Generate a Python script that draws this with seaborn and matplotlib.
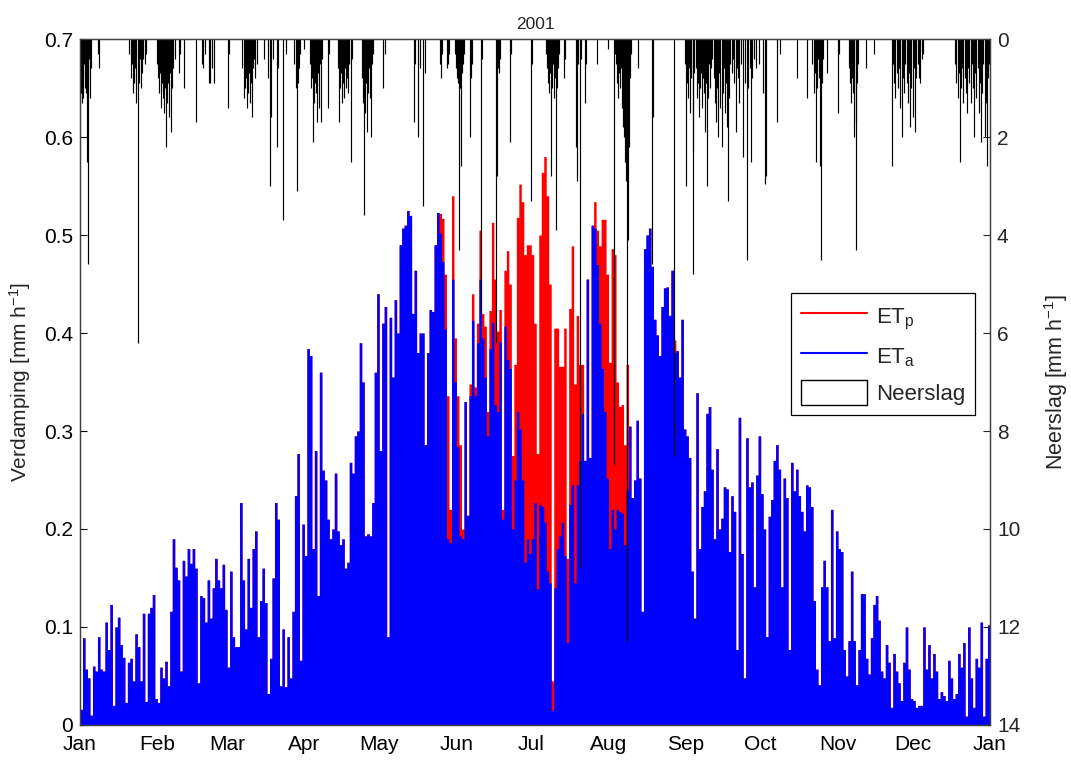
import numpy as np
import pandas as pd
import matplotlib
matplotlib.use("Agg")
import matplotlib.pyplot as plt
from matplotlib.lines import Line2D
from matplotlib.patches import Patch
import seaborn as sns

# ---------------- data (daily peak values) ----------------
year_title = "2001"
month_labels = ["Jan", "Feb", "Mar", "Apr", "May", "Jun", "Jul", "Aug", "Sep",
                "Oct", "Nov", "Dec", "Jan"]
month_starts = [0, 31, 59, 90, 120, 151, 181, 212, 243, 273, 304, 334, 365]

# actual evapotranspiration, daily maximum hourly value [mm/h], day 0 = 1 Jan
et_a = [
    0.016, 0.089, 0.057, 0.048, 0.010, 0.060, 0.055, 0.090, 0.057, 0.055,
    0.105, 0.077, 0.123, 0.020, 0.100, 0.110, 0.082, 0.069, 0.023, 0.064,
    0.068, 0.045, 0.093, 0.080, 0.045, 0.114, 0.024, 0.114, 0.120, 0.133,
    0.027, 0.023, 0.059, 0.048, 0.065, 0.040, 0.116, 0.190, 0.161, 0.148,
    0.055, 0.168, 0.152, 0.180, 0.165, 0.180, 0.160, 0.043, 0.132, 0.130,
    0.105, 0.148, 0.109, 0.140, 0.170, 0.148, 0.140, 0.164, 0.118, 0.059,
    0.157, 0.090, 0.080, 0.080, 0.227, 0.148, 0.098, 0.170, 0.120, 0.180,
    0.198, 0.090, 0.127, 0.160, 0.125, 0.032, 0.068, 0.150, 0.227, 0.210,
    0.040, 0.098, 0.039, 0.090, 0.048, 0.116, 0.234, 0.277, 0.066, 0.205,
    0.173, 0.384, 0.377, 0.180, 0.280, 0.132, 0.360, 0.260, 0.250, 0.210,
    0.190, 0.200, 0.257, 0.198, 0.184, 0.190, 0.160, 0.166, 0.268, 0.257,
    0.295, 0.300, 0.390, 0.350, 0.193, 0.195, 0.193, 0.227, 0.360, 0.440,
    0.280, 0.410, 0.427, 0.090, 0.416, 0.355, 0.434, 0.400, 0.490, 0.507,
    0.510, 0.525, 0.520, 0.420, 0.464, 0.380, 0.400, 0.400, 0.286, 0.380,
    0.424, 0.422, 0.490, 0.523, 0.502, 0.473, 0.404, 0.190, 0.186, 0.455,
    0.350, 0.284, 0.193, 0.190, 0.330, 0.214, 0.336, 0.413, 0.336, 0.390,
    0.455, 0.395, 0.355, 0.295, 0.384, 0.411, 0.327, 0.320, 0.391, 0.210,
    0.407, 0.373, 0.364, 0.200, 0.250, 0.320, 0.302, 0.250, 0.166, 0.190,
    0.175, 0.190, 0.227, 0.139, 0.225, 0.223, 0.207, 0.157, 0.145, 0.015,
    0.140, 0.180, 0.193, 0.207, 0.173, 0.084, 0.225, 0.245, 0.145, 0.245,
    0.270, 0.318, 0.270, 0.455, 0.273, 0.510, 0.507, 0.470, 0.410, 0.364,
    0.320, 0.252, 0.180, 0.220, 0.200, 0.220, 0.218, 0.216, 0.184, 0.240,
    0.305, 0.232, 0.250, 0.311, 0.252, 0.116, 0.486, 0.500, 0.507, 0.468,
    0.414, 0.398, 0.377, 0.427, 0.446, 0.447, 0.418, 0.464, 0.380, 0.382,
    0.355, 0.414, 0.302, 0.295, 0.273, 0.157, 0.109, 0.339, 0.180, 0.223,
    0.239, 0.318, 0.325, 0.261, 0.190, 0.282, 0.200, 0.211, 0.243, 0.241,
    0.177, 0.234, 0.218, 0.077, 0.314, 0.175, 0.048, 0.293, 0.243, 0.248,
    0.141, 0.255, 0.295, 0.236, 0.200, 0.090, 0.213, 0.230, 0.270, 0.286,
    0.261, 0.141, 0.252, 0.232, 0.077, 0.268, 0.239, 0.261, 0.234, 0.218,
    0.198, 0.245, 0.243, 0.223, 0.127, 0.057, 0.041, 0.141, 0.168, 0.141,
    0.086, 0.220, 0.089, 0.198, 0.180, 0.177, 0.077, 0.050, 0.086, 0.157,
    0.086, 0.041, 0.077, 0.134, 0.134, 0.068, 0.052, 0.089, 0.123, 0.132,
    0.107, 0.055, 0.048, 0.082, 0.064, 0.018, 0.073, 0.055, 0.043, 0.025,
    0.064, 0.100, 0.057, 0.027, 0.025, 0.018, 0.020, 0.020, 0.100, 0.057,
    0.082, 0.048, 0.073, 0.055, 0.027, 0.034, 0.030, 0.025, 0.066, 0.048,
    0.027, 0.032, 0.073, 0.059, 0.084, 0.009, 0.100, 0.048, 0.018, 0.068,
    0.059, 0.105, 0.009, 0.068, 0.102,
]

# potential evapotranspiration where it exceeds the actual value (days 143-219, 238)
et_p_first_day = 143
et_p_summer = [
    0.523, 0.522, 0.517, 0.460, 0.336, 0.220, 0.540, 0.395, 0.336, 0.286,
    0.200, 0.330, 0.214, 0.348, 0.440, 0.345, 0.410, 0.505, 0.420, 0.407,
    0.320, 0.423, 0.513, 0.455, 0.402, 0.424, 0.220, 0.464, 0.484, 0.450,
    0.275, 0.368, 0.518, 0.552, 0.534, 0.480, 0.490, 0.490, 0.480, 0.410,
    0.277, 0.500, 0.564, 0.580, 0.540, 0.450, 0.045, 0.405, 0.405, 0.366,
    0.366, 0.405, 0.170, 0.425, 0.489, 0.348, 0.418, 0.368, 0.368, 0.270,
    0.455, 0.273, 0.510, 0.534, 0.505, 0.489, 0.516, 0.516, 0.460, 0.370,
    0.486, 0.480, 0.350, 0.325, 0.327, 0.286, 0.368,
]
et_p_extra_day = 238
et_p_extra_value = 0.393

# precipitation events: day of year (fractional) and hourly intensity [mm/h]
precip_day = [
    0.2, 0.5, 0.8, 1.1, 1.4, 1.7, 2.0, 2.3, 2.6, 2.8, 3.1, 3.4, 3.7, 4.0, 4.4, 7.3, 7.6,
    19.8, 20.3, 20.7, 21.2, 21.6, 22.1, 22.5, 23.1, 23.5, 23.9, 24.3, 24.7, 25.3, 26.0, 26.3,
    30.8, 31.2, 31.6, 32.0, 32.4, 32.8, 33.2, 33.6, 34.0, 34.5, 34.9, 35.3, 35.7, 36.1, 36.5,
    37.0, 37.4, 38.0, 39.6, 40.2, 41.8,
    46.5, 48.8, 49.5, 50.1, 51.6, 52.3, 53.0, 53.8, 59.5, 59.9,
    65.1, 65.6, 66.1, 66.5, 66.9, 67.3, 67.7, 68.1, 68.5, 68.9, 69.3, 69.7, 70.3, 71.0,
    73.8, 75.6, 76.4, 76.8, 77.5, 79.1, 79.5, 81.3, 82.5,
    86.0, 86.5, 86.9, 87.3, 87.8, 88.4, 89.9,
    92.3, 92.7, 93.1, 93.4, 93.8, 94.2, 94.6, 94.9, 95.3, 95.8, 96.3, 96.7, 97.2,
    99.3, 99.7,
    103.3, 103.7, 104.1, 104.5, 104.9, 105.3, 105.7, 106.1, 106.5, 107.0, 107.5, 108.0, 108.6, 109.0,
    113.2, 113.6, 114.0, 114.4, 114.8, 115.2, 115.6, 116.0, 116.4, 116.8, 117.2, 117.6,
    121.7, 122.3,
    133.9, 134.3, 135.7, 136.2, 137.7, 138.2,
    144.3, 144.7, 145.2, 147.0, 147.4, 147.8,
    150.4, 150.9, 151.3, 151.7, 152.1, 152.4, 152.7, 153.1, 153.5, 153.9,
    156.4, 156.8, 157.3, 160.8, 161.2,
    166.8, 167.2, 167.5, 168.2, 168.6, 172.5, 172.8, 180.8, 181.2,
    186.9, 187.3, 187.7, 188.1, 188.5, 188.8, 189.2, 189.6, 190.0, 190.4, 190.8, 191.2, 191.6, 192.0,
    194.0, 194.5, 199.0, 199.3, 199.7, 200.5, 200.9, 202.5, 202.9, 207.5, 211.6,
    214.0, 214.4, 215.0, 215.4, 215.7, 216.1, 216.5, 216.9, 217.3, 217.7, 218.1, 218.4, 218.8,
    219.1, 219.3, 219.6, 219.9, 220.3, 220.7, 221.1,
    223.9, 229.3, 229.7, 238.2,
    242.5, 243.0, 243.4, 243.8, 244.3, 244.7, 245.1, 245.7, 246.0, 246.4,
    247.0, 247.4, 247.8, 248.2, 248.6, 249.0, 249.4, 249.8, 250.2, 250.6, 251.0, 251.3, 251.7,
    252.1, 252.5, 252.9, 253.5, 254.3, 254.8, 255.2, 255.6, 256.0, 256.4, 256.8, 257.3, 257.7,
    258.1, 258.6, 259.0, 259.4, 260.0, 260.4, 260.8, 261.5, 262.0, 262.5, 263.0, 263.5, 264.0,
    264.5, 265.0, 266.1, 266.6, 267.5, 267.9, 268.6, 269.2, 269.6, 270.5, 271.3, 272.5, 273.8,
    274.7, 275.3,
    279.4, 280.8, 287.7, 291.7, 293.6, 294.2, 294.8, 295.2, 295.6, 296.0, 296.4, 296.8, 297.2,
    297.6, 298.0, 299.6, 304.1, 304.5,
    308.6, 309.0, 309.4, 309.8, 310.2, 310.6, 311.1, 311.4, 311.8, 312.2, 315.2, 318.6,
    325.5, 326.0, 326.5, 327.0, 327.5, 328.0, 328.5, 329.0, 329.5, 330.0, 330.5, 331.0, 331.5,
    332.0, 332.5, 333.0, 333.5, 334.0, 334.5, 335.0, 335.5, 336.0, 336.5, 337.0, 337.6, 338.2,
    351.0, 351.5, 352.0, 352.5, 353.0, 353.4, 353.8, 354.3, 354.8, 355.3, 355.8, 356.2, 356.7,
    357.2, 357.6, 358.0, 358.5, 359.0, 359.5, 360.0, 360.5, 361.0, 361.4, 361.8, 362.3, 362.8,
    363.2, 363.6, 364.0, 364.4,
]
precip_mm = [
    1.1, 0.6, 1.3, 0.8, 1.2, 0.5, 1.0, 0.7, 1.1, 2.5, 4.6, 0.9, 0.4, 1.2, 0.6, 0.3, 0.6,
    0.3, 0.8, 0.5, 1.1, 0.9, 0.6, 1.3, 6.2, 0.9, 0.4, 1.0, 0.7, 0.4, 0.5, 0.3,
    0.5, 0.8, 1.1, 0.7, 1.4, 0.9, 1.2, 1.5, 1.0, 2.2, 1.3, 0.9, 1.6, 0.7, 1.9,
    1.0, 0.6, 0.4, 0.7, 0.3, 1.0,
    1.7, 0.5, 0.6, 0.3, 0.9, 0.9, 0.6, 0.9, 1.4, 0.3,
    0.6, 1.2, 1.0, 0.8, 1.4, 1.1, 0.7, 1.3, 0.9, 1.6, 0.6, 0.4, 0.8, 0.5,
    0.4, 0.8, 3.0, 1.6, 0.4, 2.2, 0.6, 3.7, 0.3,
    0.5, 1.0, 3.1, 0.9, 0.6, 0.3, 0.2,
    0.5, 1.0, 0.8, 2.1, 1.3, 0.9, 1.1, 1.7, 0.7, 1.4, 0.5, 1.7, 0.4,
    1.4, 0.3,
    0.6, 1.7, 1.0, 0.7, 1.3, 0.9, 1.2, 0.6, 1.0, 0.8, 1.1, 0.5, 2.5, 0.4,
    0.8, 1.3, 3.6, 1.5, 0.9, 1.9, 1.1, 0.6, 1.2, 2.0, 0.5, 0.3,
    1.0, 0.3,
    1.7, 0.5, 2.0, 0.6, 3.4, 0.7,
    0.5, 0.8, 0.3, 0.6, 0.5, 0.3,
    0.3, 0.6, 0.8, 0.9, 4.3, 1.0, 2.6, 0.7, 0.5, 0.3,
    2.0, 0.8, 0.5, 5.6, 0.4,
    6.2, 2.8, 0.6, 0.7, 0.4, 2.1, 0.3, 3.3, 0.5,
    0.3, 0.6, 0.9, 1.1, 0.7, 2.8, 1.0, 0.5, 1.2, 0.8, 3.9, 1.0, 0.6, 0.3,
    0.8, 0.4, 2.2, 2.9, 0.5, 10.8, 0.4, 1.3, 0.5, 0.5, 0.2,
    8.7, 0.3, 0.5, 0.9, 1.2, 0.7, 1.0, 0.6, 1.4, 1.8, 2.0, 2.5, 2.9,
    1.5, 12.3, 1.2, 4.1, 2.2, 0.8, 0.3,
    0.6, 4.6, 1.6, 8.5,
    0.5, 3.0, 0.9, 1.2, 0.6, 1.5, 0.8, 4.8, 2.3, 0.7,
    0.6, 1.2, 0.9, 1.6, 1.0, 0.7, 1.4, 0.8, 1.1, 1.9, 0.9, 3.0, 1.2,
    0.5, 1.0, 0.6, 0.4, 0.8, 1.3, 1.7, 1.0, 2.0, 0.7, 1.4, 2.2, 1.1,
    0.6, 1.5, 0.9, 1.8, 3.3, 1.2, 0.5, 0.7, 0.4, 0.9, 1.9, 0.6, 0.8,
    1.3, 0.5, 2.4, 0.9, 4.5, 1.0, 0.6, 2.5, 0.8, 0.4, 0.6, 0.5, 1.1,
    2.95, 2.8,
    1.7, 0.3, 0.8, 1.2, 0.5, 1.1, 0.7, 2.5, 1.0, 0.4, 0.8, 2.6, 4.5,
    0.9, 0.4, 0.7, 1.5, 0.3,
    0.6, 0.9, 1.3, 0.8, 1.1, 2.0, 4.3, 1.7, 0.9, 0.5, 0.6, 0.3,
    2.6, 0.5, 0.9, 1.2, 0.7, 1.0, 0.6, 1.4, 2.0, 0.8, 1.1, 0.5, 0.9,
    1.3, 0.7, 1.8, 1.0, 1.6, 0.6, 1.9, 0.8, 0.5, 0.8, 0.9, 0.4, 0.3,
    0.5, 0.9, 1.2, 0.7, 2.5, 1.0, 0.6, 1.3, 0.8, 1.1, 1.5, 0.6, 0.9,
    1.3, 0.5, 1.0, 2.0, 0.7, 1.2, 0.6, 1.5, 0.9, 2.1, 1.1, 0.5, 2.0,
    1.3, 2.6, 0.8, 0.5,
]

# ---------------- build tables ----------------
days = np.arange(len(et_a))
et_p = list(et_a)
for i, v in enumerate(et_p_summer):
    et_p[et_p_first_day + i] = v
et_p[et_p_extra_day] = et_p_extra_value
df = pd.DataFrame({"day": days + 0.5, "ETa": et_a, "ETp": et_p})

# ---------------- plotting ----------------
sns.set_style("white")
plt.rcParams["font.family"] = ["Liberation Sans", "DejaVu Sans"]
plt.rcParams["mathtext.fontset"] = "custom"
plt.rcParams["mathtext.rm"] = "Liberation Sans"
plt.rcParams["mathtext.it"] = "Liberation Sans"

fig = plt.figure(figsize=(10.71, 7.65), dpi=100)
ax = fig.add_axes([0.0747, 0.0523, 0.8497, 0.8967])

sns.histplot(data=df, x="day", weights="ETp", binwidth=1, binrange=(0, 365),
             element="step", fill=True, color="#ff0000", alpha=1,
             linewidth=0, ax=ax)
sns.histplot(data=df, x="day", weights="ETa", binwidth=1, binrange=(0, 365),
             element="step", fill=True, color="#0000ff", alpha=1,
             linewidth=0, ax=ax)

ax.set_xlim(0, 365)
ax.set_ylim(0, 0.7)
ax.set_xticks(month_starts)
ax.set_xticklabels(month_labels)
yt = np.round(np.arange(0, 0.71, 0.1), 1)
ax.set_yticks(yt)
ax.set_yticklabels(["0" if v == 0 else f"{v:.1f}" for v in yt])
ax.set_xlabel("")
ax.set_ylabel("Verdamping [mm h$^{-1}$]", fontsize=15, labelpad=8)
ax.set_title(year_title, fontsize=12.5, pad=7)
ax.tick_params(axis="both", direction="in", length=5, width=0.8,
               labelsize=15, colors="black")
ax.tick_params(axis="x", top=False, pad=7)
ax.tick_params(axis="y", pad=5)

ax2 = ax.twinx()
ax2.vlines(precip_day, 0, precip_mm, color="black", linewidth=0.85)
ax2.set_ylim(14, 0)
ax2.set_yticks(np.arange(0, 15, 2))
ax2.set_ylabel("Neerslag [mm h$^{-1}$]", fontsize=15.5, labelpad=16)
ax2.tick_params(axis="y", direction="in", length=5, width=0.8, labelsize=15,
                pad=5)
ax2.set_xlim(0, 365)

for a in (ax, ax2):
    for s in a.spines.values():
        s.set_visible(True)
        s.set_color("#404040")
        s.set_linewidth(0.9)

handles = [Line2D([0], [0], color="#ff0000", lw=1.5),
           Line2D([0], [0], color="#0000ff", lw=1.5),
           Patch(facecolor="white", edgecolor="black", linewidth=1)]
leg = ax2.legend(handles, ["ET$_p$", "ET$_a$", "Neerslag"],
                 loc="upper right", bbox_to_anchor=(0.984, 0.63),
                 borderaxespad=0,
                 fontsize=16, frameon=True, fancybox=False,
                 edgecolor="black", framealpha=1, borderpad=0.45,
                 handlelength=3.0, handletextpad=0.4, labelspacing=0.5,
                 handleheight=1.4)
leg.get_frame().set_linewidth(0.9)

fig.savefig("out.png", dpi=100)
